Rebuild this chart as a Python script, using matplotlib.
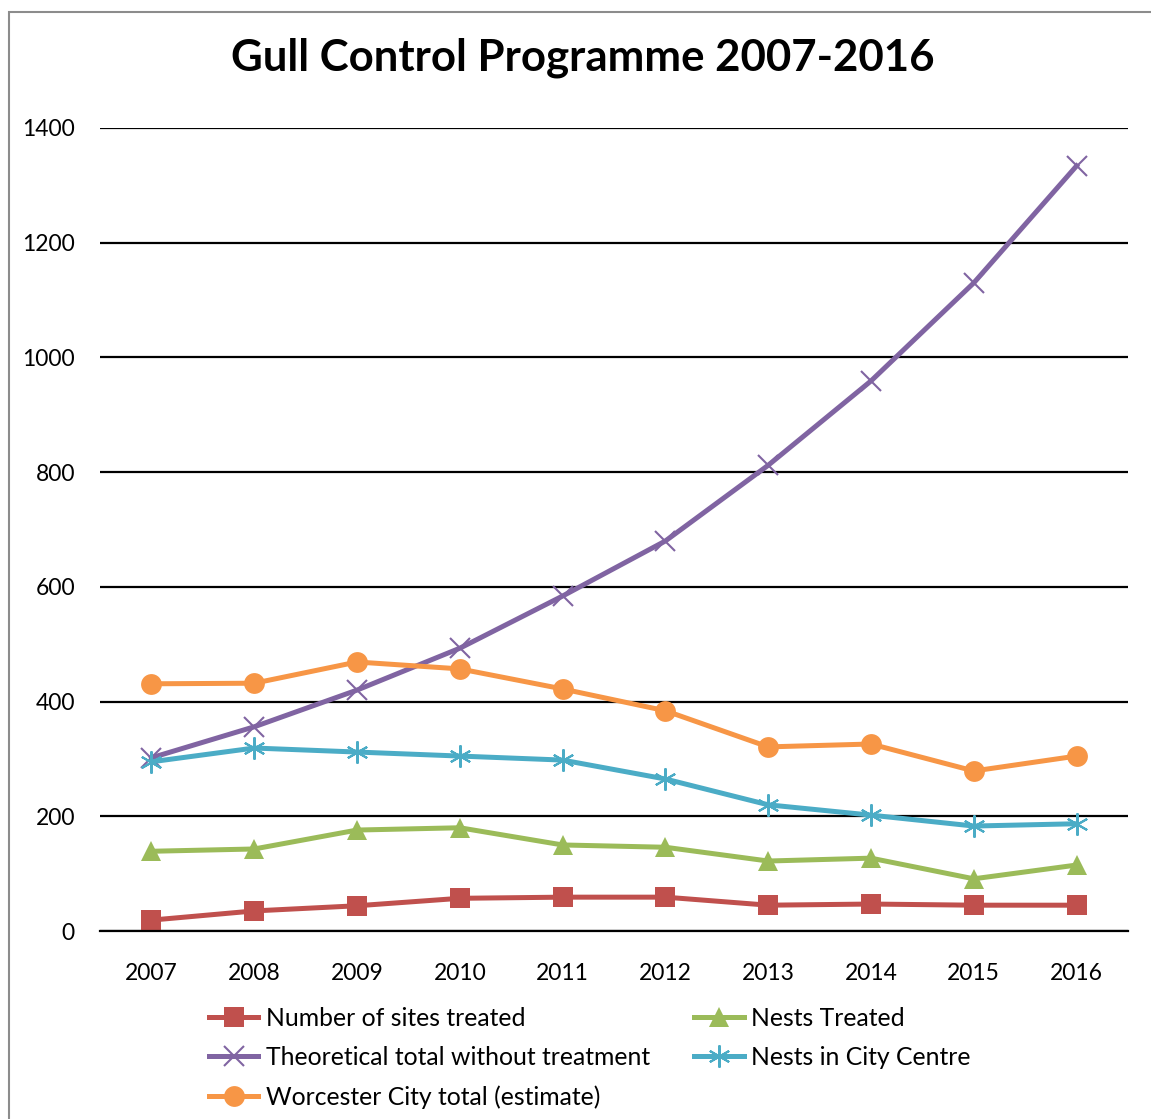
import numpy as np
import matplotlib.pyplot as plt
from matplotlib.patches import Rectangle

years = ['2007', '2008', '2009', '2010', '2011', '2012', '2013', '2014', '2015', '2016']
sites_treated = [19, 35, 44, 57, 59, 59, 45, 47, 45, 45]
nests_treated = [139, 143, 176, 180, 150, 146, 122, 127, 91, 115]
theoretical_total = [302, 356, 420, 493, 584, 680, 812, 959, 1130, 1334]
city_centre = [295, 319, 312, 305, 298, 265, 220, 202, 183, 187]
worcester_total = [431, 432, 469, 457, 422, 384, 321, 326, 279, 305]

plt.rcParams['font.family'] = ['Lato', 'DejaVu Sans']

fig = plt.figure(figsize=(11.51, 11.19), dpi=100)
W, H = 1151, 1119
# axes in pixel coords: left 100, right 1128, top 128, bottom 931
ax = fig.add_axes([100/W, 1 - 931/H, 1028/W, (931 - 128)/H])

x = np.arange(len(years))
lw = 3.6
h1, = ax.plot(x, sites_treated, color='#C0504D', lw=lw, marker='s', ms=14, mew=0, label='Number of sites treated')
h2, = ax.plot(x, nests_treated, color='#9BBB59', lw=lw, marker='^', ms=15, mew=0, label='Nests Treated')
h3, = ax.plot(x, theoretical_total, color='#8064A2', lw=lw, marker='x', ms=14, mew=1.5, label='Theoretical total without treatment')
h4, = ax.plot(x, city_centre, color='#4BACC6', lw=lw, marker=(6, 2, 0), ms=16, mew=1.5, label='Nests in City Centre')
h5, = ax.plot(x, worcester_total, color='#F79646', lw=lw, marker='o', ms=15, mew=0, label='Worcester City total (estimate)')

ax.set_xlim(-0.5, len(years) - 0.5)
ax.set_ylim(0, 1400)
ax.set_yticks(range(0, 1401, 200))
ax.set_xticks(x)
ax.set_xticklabels(years)
ax.yaxis.grid(True, color='black', lw=1.6)
ax.set_axisbelow(True)
for s in ['top', 'right', 'left']:
    ax.spines[s].set_visible(False)
ax.spines['bottom'].set_color('black')
ax.spines['bottom'].set_linewidth(1.6)
ax.tick_params(axis='both', length=0, labelsize=16.5)
ax.tick_params(axis='y', pad=18)
ax.tick_params(axis='x', pad=23)

fig.text(583/W, 1 - 58/H, 'Gull Control Programme 2007-2016', ha='center', va='center',
         fontsize=31.5, fontweight='bold')

fig.legend(handles=[h1, h3, h5, h2, h4], ncol=2, frameon=False, fontsize=17.8,
           loc='upper left', bbox_to_anchor=(199/W, 1 - 997/H),
           handlelength=2.0, columnspacing=1.8, labelspacing=0.65,
           handletextpad=0.3, borderaxespad=0)

# outer chart border (runs off right and bottom edges)
fig.patches.append(Rectangle((9/W, -0.05), 1.2, 1 - 12/H + 0.05, transform=fig.transFigure,
                             fill=False, edgecolor='#8c8c8c', lw=1.5))

fig.savefig('out.png', dpi=100)
